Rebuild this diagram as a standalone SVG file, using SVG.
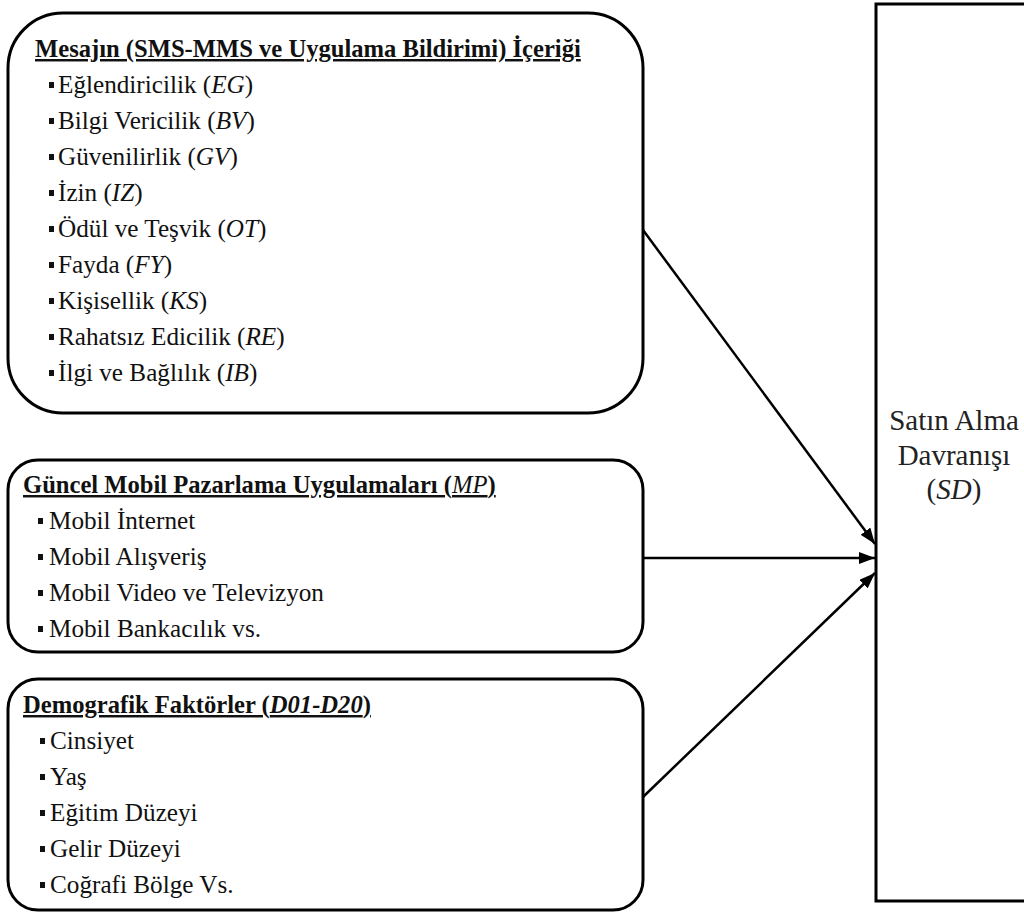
<svg xmlns="http://www.w3.org/2000/svg" width="1024" height="916" viewBox="0 0 1024 916">
<style>
  .box { fill: #ffffff; stroke: #000000; stroke-width: 3; }
  .t { font-family: "Liberation Serif", "Times New Roman", "DejaVu Serif", serif; font-size: 25.2px; fill: #111111; }
  .h { font-size: 24.6px; font-weight: bold; text-decoration: underline; }
  .i { font-style: italic; }
  .n { font-weight: normal; }
  .rt { font-family: "Liberation Serif", "Times New Roman", "DejaVu Serif", serif; font-size: 29px; fill: #222222; text-anchor: middle; }
  .b { fill: #111111; }
  .c { stroke: #000000; stroke-width: 2.5; fill: none; marker-end: url(#ah); }
</style>
<defs>
  <marker id="ah" viewBox="0 0 16 12" refX="16" refY="6" markerWidth="16" markerHeight="12" markerUnits="userSpaceOnUse" orient="auto">
    <path d="M0,0 L16,6 L0,12 Z" fill="#000000"/>
  </marker>
</defs>
<rect width="1024" height="916" fill="#ffffff"/>

<g id="node-sd">
  <rect class="box" x="876" y="4" width="200" height="897"/>
  <text class="rt" x="954" y="430">Satın Alma</text>
  <text class="rt" x="954" y="465">Davranışı</text>
  <text class="rt" x="954" y="499">(<tspan class="i">SD</tspan>)</text>
</g>

<g id="node-mesaj">
  <rect class="box" x="8" y="13" width="635" height="400" rx="55" ry="55"/>
  <text class="t h" x="35" y="57">Mesajın (SMS-MMS ve Uygulama Bildirimi) İçeriği</text>
  <rect class="b" x="49" y="82" width="5" height="6"/>
  <text class="t" x="58" y="93">Eğlendiricilik (<tspan class="i">EG</tspan>)</text>
  <rect class="b" x="49" y="118" width="5" height="6"/>
  <text class="t" x="58" y="129">Bilgi Vericilik (<tspan class="i">BV</tspan>)</text>
  <rect class="b" x="49" y="154" width="5" height="6"/>
  <text class="t" x="58" y="165">Güvenilirlik (<tspan class="i">GV</tspan>)</text>
  <rect class="b" x="49" y="190" width="5" height="6"/>
  <text class="t" x="58" y="201">İzin (<tspan class="i">IZ</tspan>)</text>
  <rect class="b" x="49" y="226" width="5" height="6"/>
  <text class="t" x="58" y="237">Ödül ve Teşvik (<tspan class="i">OT</tspan>)</text>
  <rect class="b" x="49" y="262" width="5" height="6"/>
  <text class="t" x="58" y="273">Fayda (<tspan class="i">FY</tspan>)</text>
  <rect class="b" x="49" y="298" width="5" height="6"/>
  <text class="t" x="58" y="309">Kişisellik (<tspan class="i">KS</tspan>)</text>
  <rect class="b" x="49" y="334" width="5" height="6"/>
  <text class="t" x="58" y="345">Rahatsız Edicilik (<tspan class="i">RE</tspan>)</text>
  <rect class="b" x="49" y="370" width="5" height="6"/>
  <text class="t" x="58" y="381">İlgi ve Bağlılık (<tspan class="i">IB</tspan>)</text>
</g>

<g id="node-mobil">
  <rect class="box" x="8" y="460" width="635" height="192" rx="30" ry="30"/>
  <text class="t h" x="23" y="493">Güncel Mobil Pazarlama Uygulamaları (<tspan class="i n">MP</tspan>)</text>
  <rect class="b" x="38" y="518" width="5" height="6"/>
  <text class="t" x="49" y="529">Mobil İnternet</text>
  <rect class="b" x="38" y="554" width="5" height="6"/>
  <text class="t" x="49" y="565">Mobil Alışveriş</text>
  <rect class="b" x="38" y="590" width="5" height="6"/>
  <text class="t" x="49" y="601">Mobil Video ve Televizyon</text>
  <rect class="b" x="38" y="626" width="5" height="6"/>
  <text class="t" x="49" y="637">Mobil Bankacılık vs.</text>
</g>

<g id="node-demografik">
  <rect class="box" x="8" y="679" width="635" height="231" rx="30" ry="30"/>
  <text class="t h" x="23" y="713">Demografik Faktörler (<tspan class="i">D01-D20</tspan>)</text>
  <rect class="b" x="40" y="738" width="5" height="6"/>
  <text class="t" x="50" y="749">Cinsiyet</text>
  <rect class="b" x="40" y="774" width="5" height="6"/>
  <text class="t" x="50" y="785">Yaş</text>
  <rect class="b" x="40" y="810" width="5" height="6"/>
  <text class="t" x="50" y="821">Eğitim Düzeyi</text>
  <rect class="b" x="40" y="846" width="5" height="6"/>
  <text class="t" x="50" y="857">Gelir Düzeyi</text>
  <rect class="b" x="40" y="882" width="5" height="6"/>
  <text class="t" x="50" y="893">Coğrafi Bölge Vs.</text>
</g>

<g id="connectors">
  <path class="c" d="M643,230 L875,544"/>
  <path class="c" d="M643,558 L875,558"/>
  <path class="c" d="M643,797 L875,573"/>
</g>
</svg>
